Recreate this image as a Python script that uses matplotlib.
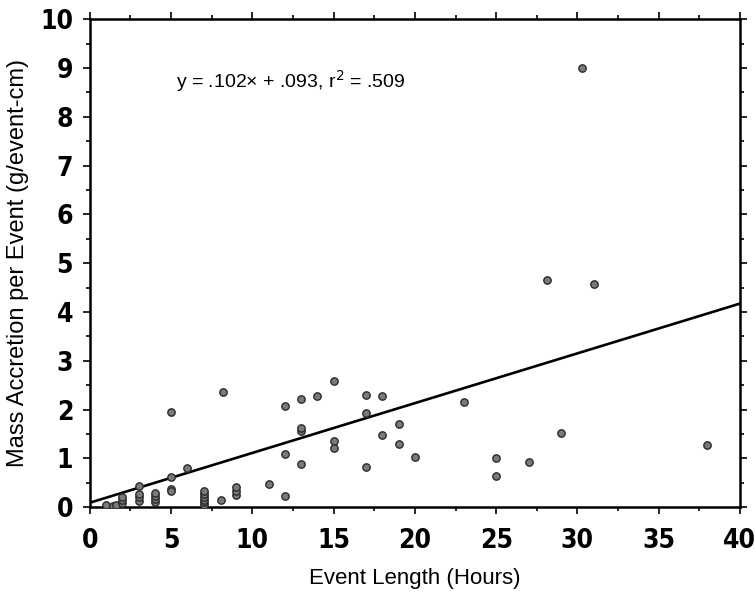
import numpy as np
import matplotlib.pyplot as plt
from matplotlib.ticker import MultipleLocator

# event length (hours) and mass accretion per event (g/event-cm)
hours = [1, 1.4, 1.6, 2, 2, 2, 3, 3, 3, 3,
         4, 4, 4, 4, 5, 5, 5, 5, 6,
         7, 7, 7, 7, 7, 7, 8.1, 8.2, 9, 9, 9,
         11, 12, 12, 12, 13, 13, 13, 13, 14,
         15, 15, 15, 17, 17, 17, 18, 18, 19, 19, 20,
         23, 25, 25, 27, 28.1, 29, 30.3, 31, 38]
accretion = [0.05, 0.03, 0.05, 0.08, 0.15, 0.22, 0.12, 0.2, 0.28, 0.44,
             0.1, 0.17, 0.24, 0.3, 1.95, 0.62, 0.38, 0.33, 0.8,
             0.05, 0.1, 0.15, 0.21, 0.27, 0.33, 0.14, 2.36, 0.25, 0.33, 0.41,
             0.47, 0.24, 1.1, 2.08, 0.88, 1.56, 1.62, 2.22, 2.28,
             2.58, 1.35, 1.21, 0.83, 1.94, 2.31, 1.48, 2.27, 1.29, 1.71, 1.02,
             2.16, 0.63, 1.0, 0.92, 4.66, 1.53, 9.0, 4.58, 1.27]

slope, intercept = 0.102, 0.093
fit_x = np.array([0, 40])

label_font = ['Liberation Sans', 'DejaVu Sans']

fig = plt.figure(figsize=(7.55, 6.01), dpi=100)
ax = fig.add_axes([0.119, 0.156, 0.861, 0.812])

ax.plot(fit_x, slope * fit_x + intercept, color='black', lw=1.9, zorder=2)
ax.scatter(hours, accretion, s=28, facecolor='#7a7a7a', edgecolor='#2a2a2a',
           linewidth=1.0, zorder=3)

ax.set_xlim(0, 40)
ax.set_ylim(0, 10)
ax.xaxis.set_major_locator(MultipleLocator(5))
ax.xaxis.set_minor_locator(MultipleLocator(2.5))
ax.yaxis.set_major_locator(MultipleLocator(1))
ax.yaxis.set_minor_locator(MultipleLocator(0.5))
ax.tick_params(which='both', direction='out', top=True, right=True, width=1.2)
ax.tick_params(which='major', length=5)
ax.tick_params(which='minor', length=3)
ax.tick_params(axis='x', pad=10)
ax.tick_params(axis='y', pad=7)
for s in ax.spines.values():
    s.set_linewidth(1.8)

for lab in ax.get_xticklabels() + ax.get_yticklabels():
    lab.set_family(['DejaVu Sans'])
    lab.set_stretch('condensed')
    lab.set_fontweight('bold')
    lab.set_fontsize(19)

ax.set_xlabel('Event Length (Hours)', family=label_font, fontsize=16, labelpad=10)
ax.set_ylabel('Mass Accretion per Event (g/event-cm)', family=label_font,
              fontsize=17, labelpad=8)

ax.text(5.3, 8.73, 'y = .102\u00d7 + .093, r$^2$ = .509', family=label_font,
        fontsize=14, va='center', ha='left')

fig.savefig('out.png', dpi=100)
